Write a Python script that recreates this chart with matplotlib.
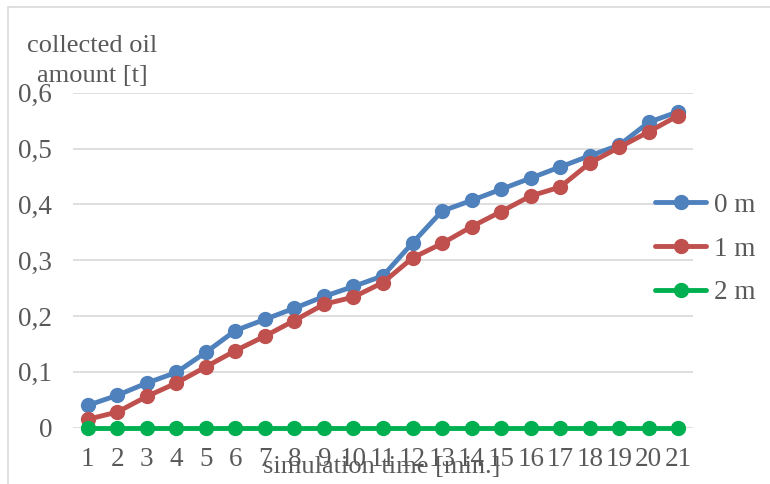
import matplotlib
matplotlib.use("Agg")
import matplotlib.pyplot as plt
from matplotlib.patches import Rectangle

minutes = list(range(1, 22))
oil_0m = [0.040, 0.058, 0.080, 0.099, 0.135, 0.174, 0.194, 0.214, 0.235, 0.253, 0.272,
          0.331, 0.388, 0.407, 0.427, 0.447, 0.467, 0.487, 0.506, 0.547, 0.566]
oil_1m = [0.015, 0.028, 0.056, 0.080, 0.109, 0.138, 0.164, 0.192, 0.221, 0.234, 0.260,
          0.304, 0.330, 0.360, 0.387, 0.415, 0.431, 0.474, 0.502, 0.530, 0.559]
oil_2m = [0.0] * 21
series_names = ["0 m", "1 m", "2 m"]
y_ticks = [0, 0.1, 0.2, 0.3, 0.4, 0.5, 0.6]
y_tick_labels = ["0", "0,1", "0,2", "0,3", "0,4", "0,5", "0,6"]

colors = ["#4f81bd", "#c0504d", "#00b050"]
text_color = "#595959"
plt.rcParams["font.family"] = ["Liberation Serif", "DejaVu Serif"]

W, H = 770, 484
fig = plt.figure(figsize=(W / 100, H / 100), dpi=100)
ax = fig.add_axes([73 / W, 1 - 427.7 / H, (693 - 73) / W, (427.7 - 92.7) / H])

# outer chart border
fig.patches.append(Rectangle((7.5 / W, -0.01), 1.0, 1 - 7.5 / H + 0.01,
                             transform=fig.transFigure, fill=False,
                             edgecolor="#d9d9d9", linewidth=1.2))

for vals, name, c in zip([oil_0m, oil_1m, oil_2m], series_names, colors):
    ax.plot(minutes, vals, color=c, linewidth=3.5, marker="o", markersize=10,
            label=name, solid_capstyle="round", clip_on=False)

ax.set_xlim(0.5, 21.5)
ax.set_ylim(0, 0.6)
ax.set_yticks(y_ticks)
ax.set_yticklabels(y_tick_labels)
ax.set_xticks(minutes)
ax.set_xticklabels([str(m) for m in minutes])
ax.grid(axis="y", color="#d9d9d9", linewidth=1.2)
ax.set_axisbelow(True)
for s in ax.spines.values():
    s.set_visible(False)
ax.tick_params(axis="both", length=0, labelsize=19.5, labelcolor=text_color)
ax.tick_params(axis="y", pad=15)
ax.tick_params(axis="x", pad=14)

fig.text(92.5 / W, 1 - 51.5 / H, "collected oil", ha="center", va="baseline",
         fontsize=19, color=text_color)
fig.text(92.5 / W, 1 - 81.5 / H, "amount [t]", ha="center", va="baseline",
         fontsize=19, color=text_color)
fig.text(382 / W, 1 - 473 / H, "simulation time [min.]", ha="center", va="baseline",
         fontsize=19, color=text_color)

leg = fig.legend(loc="center left", bbox_to_anchor=(655 / W, 1 - 249 / H),
                 frameon=False, fontsize=19.5, handlelength=1.9, handletextpad=0.27,
                 labelspacing=0.7, borderpad=0, borderaxespad=0)
for t in leg.get_texts():
    t.set_color(text_color)

fig.savefig("out.png", dpi=100)
